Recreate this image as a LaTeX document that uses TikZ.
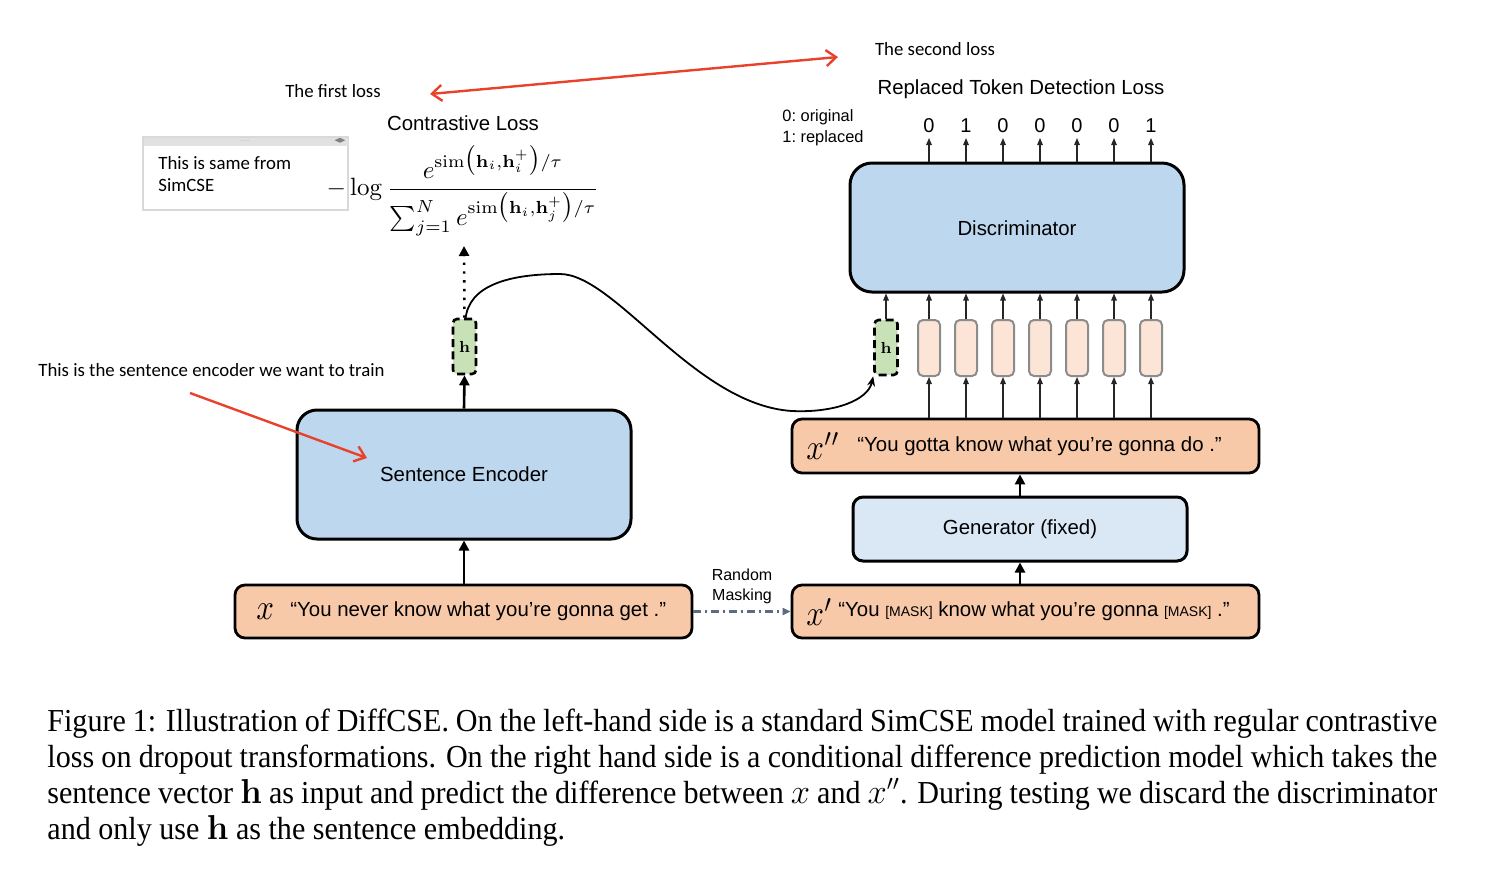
\documentclass[tikz,border=0pt]{standalone}
\usepackage{graphicx}
\usepackage{amsmath,amssymb}
\usepackage[no-math]{fontspec}
\usetikzlibrary{arrows.meta,calc}
\newfontfamily\helv{Liberation Sans}
\newfontfamily\calib{Carlito}
\newfontfamily\capfnt[FakeStretch=0.94]{Liberation Serif}
\definecolor{encblue}{HTML}{BDD7EE}
\definecolor{genblue}{HTML}{DAE7F4}
\definecolor{salm}{HTML}{F7C9A9}
\definecolor{tokpink}{HTML}{FCE4D6}
\definecolor{hgreen}{HTML}{C8E1B6}
\definecolor{annred}{HTML}{E8412C}
\definecolor{slate}{HTML}{5B6B82}
\definecolor{notegray}{HTML}{E1E1E1}
\tikzset{
  bigbox/.style={draw, line width=1.5pt, rounded corners=10pt, fill=encblue, inner sep=0pt},
  genbox/.style={draw, line width=1.5pt, rounded corners=5pt, fill=genblue, inner sep=0pt, minimum width=167pt, minimum height=32pt},
  sentbox/.style={draw, line width=1.4pt, rounded corners=5pt, fill=salm, inner sep=0pt, minimum height=26.5pt},
  hbox/.style={draw, line width=1.3pt, dash pattern=on 4pt off 2.2pt, rounded corners=2pt, fill=hgreen, inner sep=0pt, minimum width=11.5pt, minimum height=27.5pt},
  tokbox/.style={draw=black!45, line width=1pt, rounded corners=2.5pt, fill=tokpink, inner sep=0pt, minimum width=11pt, minimum height=28pt},
  thick arrow/.style={line width=1.3pt, -{Triangle[length=5pt,width=5pt]}},
  thin arrow/.style={line width=0.6pt, draw=black!85, -{Triangle[length=3.5pt,width=2.8pt]}},
  redarrow/.style={draw=annred, line width=1.2pt, -{Straight Barb[length=5pt,width=8pt]}},
  hv/.style={font=\helv\fontsize{10.2}{12}\selectfont},
  anno/.style={font=\calib\fontsize{9.4}{11}\selectfont},
  bigmath/.style={inner sep=0pt},
  caplinef/.style={font=\capfnt\fontsize{16}{18}\selectfont, inner sep=0pt, anchor=base west},
}
\newcommand{\bigvar}[1]{\scalebox{1.55}[1.8]{$#1$}}
\begin{document}
\begin{tikzpicture}[x=0.5pt,y=-0.5pt]
\useasboundingbox (0,0) rectangle (1491,869);

% ---------- left side ----------
\node[bigbox, minimum width=167pt, minimum height=64.5pt] (enc) at (464,474.5) {};
\node[hv] at (464,474.5) {Sentence Encoder};

\node[sentbox, minimum width=228.5pt] (x) at (463.5,611.5) {};
\node[bigmath, anchor=west] at (256,612) {\bigvar{x}};
\node[hv, anchor=west, inner sep=0pt] at (290,611) {“You never know what you’re gonna get .”};

\node[hbox] (hl) at (464.5,346.5) {};
\node[inner sep=0pt] at (464.5,347) {\fontsize{8}{8}\selectfont$\mathbf{h}$};

\coordinate (ctop) at (464,246);
\draw[thick arrow] (x.north -| enc.south) -- (enc.south);
\draw[thick arrow] (enc.north) -- (hl.south);
\draw[line width=1.3pt, dash pattern=on 1.2pt off 3.2pt, -{Triangle[length=5pt,width=5pt]}] (hl.north) -- (ctop);

% note box (drawn before the formula)
\node[draw=black!15, line width=0.6pt, fill=white, minimum width=102.5pt, minimum height=36.5pt, inner sep=0pt] (note) at (245.5,173.5) {};
\fill[notegray] (143.5,137.5) rectangle (347.5,145.5);
\node[inner sep=0pt, font=\fontsize{3}{3}\selectfont, text=black!50] at (245.5,141) {....};
\node[inner sep=0pt, font=\fontsize{3.5}{3.5}\selectfont, text=black!50] at (340,141) {$\blacktriangleleft\!\blacktriangleright$};
\node[anno, anchor=base west, inner sep=0pt] at (158,169) {This is same from};
\node[anno, anchor=base west, inner sep=0pt] at (158,191) {SimCSE};

\node[hv] (cl) at (463,123) {Contrastive Loss};
\node[inner sep=0pt] (formula) at (463,191) {\scalebox{1.25}{$-\log\dfrac{e^{\mathrm{sim}\bigl(\mathbf{h}_i,\mathbf{h}_i^{+}\bigr)/\tau}}{\sum_{j=1}^{N} e^{\mathrm{sim}\bigl(\mathbf{h}_i,\mathbf{h}_j^{+}\bigr)/\tau}}$}};

% ---------- right side ----------
\node[bigbox, minimum width=167pt, minimum height=64.5pt, rounded corners=11pt] (disc) at (1017,227.5) {};
\node[hv] at (1017,228) {Discriminator};

\node[sentbox, minimum width=233.5pt, minimum height=27pt] (xpp) at (1025.5,446) {};
\node[bigmath, anchor=west] at (806,446) {\bigvar{x''}};
\node[hv, anchor=west, inner sep=0pt] at (857,446) {“You gotta know what you’re gonna do .”};

\node[genbox] (gen) at (1020,529) {};
\node[hv] at (1020,529) {Generator (fixed)};

\node[sentbox, minimum width=233.5pt] (xp) at (1025.5,611.5) {};
\node[bigmath, anchor=west] at (806,612) {\bigvar{x'}};
\node[hv, anchor=west, inner sep=0pt] at (838,611) {“You {\fontsize{7}{8}\selectfont[MASK]} know what you’re gonna {\fontsize{7}{8}\selectfont[MASK]} .”};

\draw[thick arrow] (xp.north -| gen.south) -- (gen.south);
\draw[thick arrow] (gen.north) -- (gen.north |- xpp.south);

\draw[slate, line width=1.1pt, dash pattern=on 4pt off 2pt on 1pt off 2pt, -{Triangle[length=4pt,width=3.5pt]}] (x.east) -- (xp.west);
\node[font=\helv\fontsize{8}{10}\selectfont, align=center, inner sep=0pt] (rm) at (742,586) {Random\\Masking};

\node[hbox] (hr) at (886,347.5) {};
\node[inner sep=0pt] at (886,348) {\fontsize{8}{8}\selectfont$\mathbf{h}$};
\draw[thin arrow] (hr.north) -- (hr.north |- disc.south);

\foreach \i/\xx/\lab in {1/929/0,2/966/1,3/1003/0,4/1040/0,5/1077/0,6/1114/0,7/1151/1}{
  \node[tokbox] (t\i) at (\xx,348) {};
  \draw[thin arrow] (t\i.south |- xpp.north) -- (t\i.south);
  \draw[thin arrow] (t\i.north) -- (t\i.north |- disc.south);
  \coordinate (o\i) at (\xx,138);
  \draw[thin arrow] (t\i.north |- disc.north) -- (o\i);
  \node[font=\helv\fontsize{10}{12}\selectfont, inner sep=0pt] (l\i) at (\xx,126) {\lab};
}
\node[font=\helv\fontsize{8.2}{10.5}\selectfont\frenchspacing, align=left, anchor=west, inner sep=0pt] (legend) at (782,128) {0: original\\1: replaced};
\node[hv] (rtd) at (1021,89) {Replaced Token Detection Loss};

% curve from h to h
\draw[line width=0.9pt, -{Stealth[length=5pt,width=4pt]}] ($(hl.north)+(1,2)$) .. controls (468,285) and (510,274) .. (560,274) .. controls (615,274) and (695,405) .. (792,411) .. controls (835,413) and (868,400) .. (hr.south west);

% ---------- annotations ----------
\node[anno] (fl) at (333,91) {The first loss};
\node[anno] (sl) at (935,49) {The second loss};
\coordinate (ra1) at (430,94);
\coordinate (ra2) at (838,57);
\draw[annred, line width=1.2pt, {Straight Barb[length=5pt,width=8pt]}-{Straight Barb[length=5pt,width=8pt]}] (ra1) -- (ra2);
\node[anno, anchor=west, inner sep=0pt] (se) at (38,370) {This is the sentence encoder we want to train};
\coordinate (sa1) at (190,393);
\coordinate (sa2) at (367,458);
\draw[redarrow] (sa1) -- (sa2);

% ---------- caption ----------
\node[caplinef] at (47,731.5) {\makebox[695pt][s]{Figure 1: Illustration of DiffCSE. On the left-hand side is a standard SimCSE model trained with regular contrastive}};
\node[caplinef] at (47,767.5) {\makebox[695pt][s]{loss on dropout transformations. On the right hand side is a conditional difference prediction model which takes the}};
\node[caplinef] at (47,803.5) {\makebox[695pt][s]{sentence vector $\mathbf{h}$ as input and predict the difference between $x$ and $x''$. During testing we discard the discriminator}};
\node[caplinef] at (47,839.5) {and only use $\mathbf{h}$ as the sentence embedding.};
\end{tikzpicture}
\end{document}
